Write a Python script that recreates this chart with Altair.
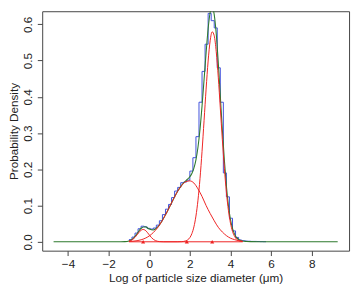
import altair as alt
import pandas as pd

# ---- data ----
# green: fitted mixture density
green_x = [-4.71, -1.4, -1.2, -1.0, -0.8, -0.6, -0.4, -0.2, 0.0, 0.2, 0.4, 0.6, 0.8, 1.0, 1.2, 1.4,
           1.6, 1.8, 2.0, 2.1, 2.2, 2.3, 2.4, 2.5, 2.6, 2.7, 2.8, 2.9, 3.0, 3.1, 3.2, 3.3, 3.4,
           3.5, 3.6, 3.7, 3.8, 3.9, 4.0, 4.1, 4.2, 4.3, 4.4, 4.5, 4.6, 4.8, 5.0, 5.4, 9.28]
green_y = [0.0, 0.0, 0.0004, 0.0023, 0.0085, 0.0221, 0.0374, 0.0416, 0.0351, 0.0323, 0.0396, 0.0547,
           0.0743, 0.0962, 0.1187, 0.1394, 0.1561, 0.1682, 0.1795, 0.1885, 0.2032, 0.2259, 0.2608,
           0.3105, 0.3742, 0.4473, 0.5211, 0.5876, 0.6325, 0.6473, 0.6265, 0.5732, 0.494, 0.4024,
           0.3093, 0.2247, 0.1537, 0.0996, 0.0616, 0.0368, 0.0212, 0.0115, 0.0065, 0.0035, 0.0021,
           0.001, 0.0004, 0.0, 0.0]

# red: the three mixture components
comp1_x = [-1.0, -0.9, -0.8, -0.7, -0.6, -0.5, -0.4, -0.3, -0.2, -0.1, 0.0, 0.1, 0.2, 0.3, 0.4,
           0.5, 0.7, 4.6]
comp1_y = [0.0015, 0.0034, 0.0069, 0.0123, 0.0191, 0.0263, 0.0319, 0.034, 0.0319, 0.0263, 0.0191,
           0.0123, 0.0069, 0.0034, 0.0015, 0.0005, 0.0, 0.0]
comp2_x = [-1.0, -0.8, -0.6, -0.4, -0.2, 0.0, 0.2, 0.4, 0.6, 0.8, 1.0, 1.2, 1.4, 1.6, 1.8, 2.0,
           2.2, 2.4, 2.6, 2.8, 3.0, 3.2, 3.4, 3.6, 3.8, 4.0, 4.2, 4.4, 4.6]
comp2_y = [0.0008, 0.0016, 0.003, 0.0055, 0.0097, 0.016, 0.0254, 0.0381, 0.0546, 0.0743, 0.0962,
           0.1187, 0.1394, 0.1557, 0.1657, 0.168, 0.162, 0.146, 0.125, 0.100, 0.078, 0.058, 0.040,
           0.027, 0.017, 0.010, 0.006, 0.003, 0.0015]
comp3_x = [-1.0, 1.4, 1.6, 1.8, 1.9, 2.0, 2.1, 2.2, 2.3, 2.4, 2.5, 2.6, 2.7, 2.8, 2.9, 3.0, 3.1,
           3.2, 3.3, 3.4, 3.5, 3.6, 3.7, 3.8, 3.9, 4.0, 4.1, 4.2, 4.3, 4.4, 4.5, 4.6]
comp3_y = [0.0, 0.0, 0.0004, 0.0025, 0.0055, 0.0115, 0.0225, 0.0412, 0.0709, 0.1148, 0.1745,
           0.2492, 0.3343, 0.4211, 0.4986, 0.5545, 0.5793, 0.5685, 0.5242, 0.454, 0.3694, 0.2823,
           0.2027, 0.1367, 0.0866, 0.0516, 0.0288, 0.0152, 0.0075, 0.0035, 0.0015, 0.0006]
means = [-0.3, 1.85, 3.1]

# blue: empirical density (step line, left bin edges)
blue_x = [-1.00, -0.85, -0.70, -0.55, -0.40, -0.25, -0.10, 0.05, 0.20, 0.35, 0.50, 0.65, 0.80,
          0.95, 1.10, 1.25, 1.40, 1.55, 1.70, 1.85, 2.00, 2.15, 2.30, 2.45, 2.60, 2.75, 2.90,
          3.05, 3.20, 3.35, 3.50, 3.65, 3.80, 3.95, 4.10, 4.25, 4.40, 4.55, 4.70, 4.85, 5.00,
          5.15, 5.30, 5.45, 5.60, 5.75]
blue_y = [0.006, 0.013, 0.024, 0.036, 0.043, 0.041, 0.037, 0.035, 0.038, 0.046, 0.058, 0.075,
          0.090, 0.103, 0.122, 0.140, 0.150, 0.163, 0.165, 0.170, 0.195, 0.232, 0.290, 0.385,
          0.470, 0.545, 0.630, 0.610, 0.590, 0.480, 0.385, 0.190, 0.124, 0.065, 0.030, 0.012,
          0.005, 0.003, 0.002, 0.0015, 0.001, 0.001, 0.0008, 0.0005, 0.0003, 0.0003]

x_ticks = [-4, -2, 0, 2, 4, 6, 8]
y_ticks = [0.0, 0.1, 0.2, 0.3, 0.4, 0.5, 0.6]

# ---- chart ----
xdom = [-5.27, 9.84]
ydom = [-0.0245, 0.636]
xs = alt.Scale(domain=xdom, nice=False, zero=False)
ys = alt.Scale(domain=ydom, nice=False, zero=False)

xenc = alt.X("x:Q", scale=xs, axis=alt.Axis(values=x_ticks, title="Log of particle size diameter (μm)",
                                          format="d", titlePadding=4))
yenc = alt.Y("y:Q", scale=ys, axis=alt.Axis(values=y_ticks, title="Probability Density", format=".1f",
                                          labelAngle=270, labelAlign="center", labelBaseline="bottom",
                                          titlePadding=1))

blue = alt.Chart(pd.DataFrame({"x": blue_x, "y": blue_y})).mark_line(
    interpolate="step-after", color="#3f50dc", strokeWidth=1, clip=True).encode(x=xenc, y=yenc)

green = alt.Chart(pd.DataFrame({"x": green_x, "y": green_y})).mark_line(
    interpolate="monotone", color="#2e7a2e", strokeWidth=1.1, clip=True).encode(x=xenc, y=yenc)

comp_frames = []
for k, (cx, cy) in enumerate([(comp1_x, comp1_y), (comp2_x, comp2_y), (comp3_x, comp3_y)]):
    comp_frames.append(pd.DataFrame({"x": cx, "y": cy, "c": [k] * len(cx)}))
red_df = pd.concat(comp_frames, ignore_index=True)
red = alt.Chart(red_df).mark_line(
    interpolate="monotone", color="#ee2222", strokeWidth=1, clip=True).encode(
    x=xenc, y=yenc, detail="c:N")

tri = alt.Chart(pd.DataFrame({"x": means, "y": [0.0] * len(means)})).mark_point(
    shape="triangle-up", filled=True, color="#ee2222", size=18, opacity=1).encode(x=xenc, y=yenc)

chart = alt.layer(blue, green, red, tri).properties(
    width=314, height=245,
    autosize=alt.AutoSizeParams(type="none"),
    padding={"left": 35, "top": 0, "right": 3, "bottom": 40},
).configure_view(stroke="#444444", strokeWidth=1).configure_axis(
    domain=False, grid=False, tickColor="#444444", tickSize=5, labelPadding=3,
    labelFont="Liberation Sans", labelFontSize=12, labelColor="#222222",
    titleFont="Liberation Sans", titleFontSize=12, titleFontWeight="normal", titleColor="#222222",
)

chart.save("out.html", embed_options={"renderer": "svg", "actions": False})
